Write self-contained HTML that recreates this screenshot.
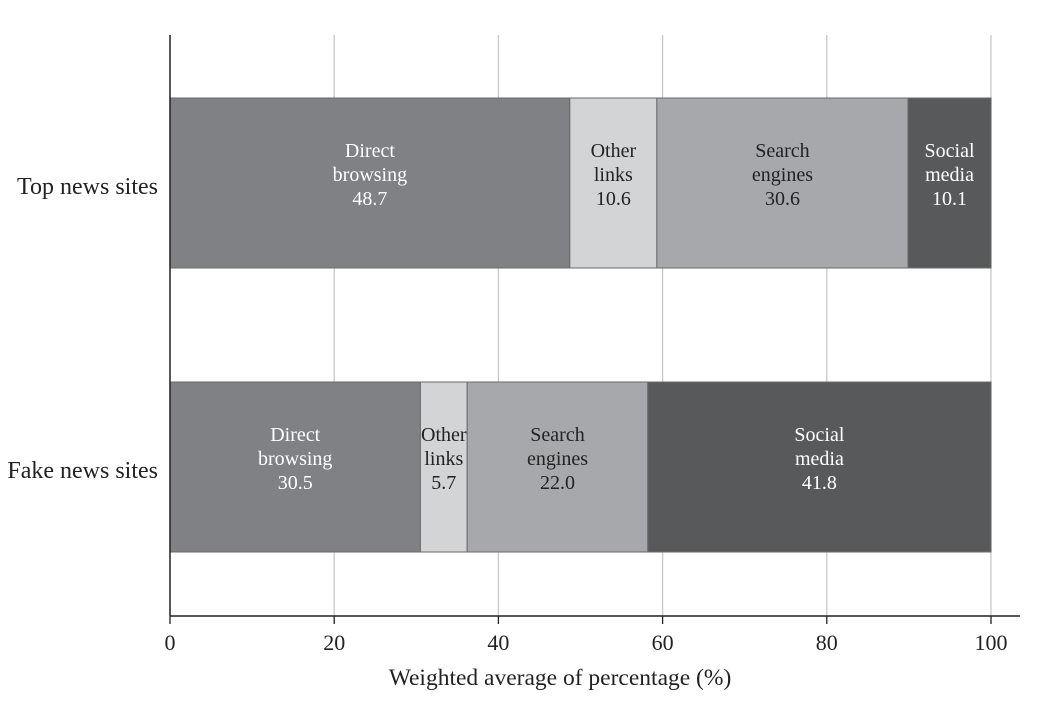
<!DOCTYPE html>
<html><head><meta charset="utf-8"><style>
body{margin:0;background:#fff}
svg text{font-family:"Liberation Serif",serif}
</style></head><body>
<svg id="chart" width="1047" height="699" xmlns="http://www.w3.org/2000/svg"></svg>
<script>
const categories=["Top news sites","Fake news sites"];
const segmentNames=[["Direct","browsing"],["Other","links"],["Search","engines"],["Social","media"]];
const topValues=[48.7,10.6,30.6,10.1];
const fakeValues=[30.5,5.7,22.0,41.8];
const ticks=[0,20,40,60,80,100];
const series=[topValues,fakeValues];
const fills=["#808184","#d3d4d6","#a7a8ab","#58595b"];
const textFill=["#fff","#222","#222","#fff"];
const svg=document.getElementById('chart');
const NS="http://www.w3.org/2000/svg";
const x=v=>170+v*8.21;
const barTop=[98,382],barH=170;
function mk(tag,attrs,parent){const e=document.createElementNS(NS,tag);for(const k in attrs)e.setAttribute(k,attrs[k]);(parent||svg).appendChild(e);return e;}
ticks.forEach(t=>{
  if(t>0){const g=mk('line',{x1:x(t),x2:x(t),y1:35,y2:616,stroke:'#c8c8c8','stroke-width':1.3});
  
  }
  const tk=mk('text',{x:x(t),y:650,'text-anchor':'middle','font-size':22,fill:'#222'});tk.textContent=t;
  
  
});
series.forEach((vals,ci)=>{
  let acc=0;
  const cl=mk('text',{x:158,y:barTop[ci]+barH/2+11,'text-anchor':'end','font-size':24,fill:'#222'});cl.textContent=categories[ci];
  
  
  vals.forEach((v,si)=>{
    const r=mk('rect',{x:x(acc),y:barTop[ci],width:x(acc+v)-x(acc),height:barH,fill:fills[si],stroke:'#6a6a6a','stroke-width':1});
    
    
    const cx=(x(acc)+x(acc+v))/2,cy=barTop[ci]+barH/2;
    const lines=[segmentNames[si][0],segmentNames[si][1],v.toFixed(1)];
    lines.forEach((s,li)=>{
      const t=mk('text',{x:cx,y:cy-26+li*24,'text-anchor':'middle','font-size':20,fill:textFill[si]});t.textContent=s;
      
      
    });
    acc+=v;
  });
});
const ya=mk('line',{x1:170,x2:170,y1:35,y2:616,stroke:'#222','stroke-width':1.5});


const xa=mk('line',{x1:170,x2:1020,y1:616,y2:616,stroke:'#222','stroke-width':1.5});


ticks.forEach(t=>{mk('line',{x1:x(t),x2:x(t),y1:616,y2:624,stroke:'#222','stroke-width':1.3});});
const xt=mk('text',{x:560,y:685,'text-anchor':'middle','font-size':23.5,fill:'#222'});xt.textContent="Weighted average of percentage (%)";


</script>
</body></html>
